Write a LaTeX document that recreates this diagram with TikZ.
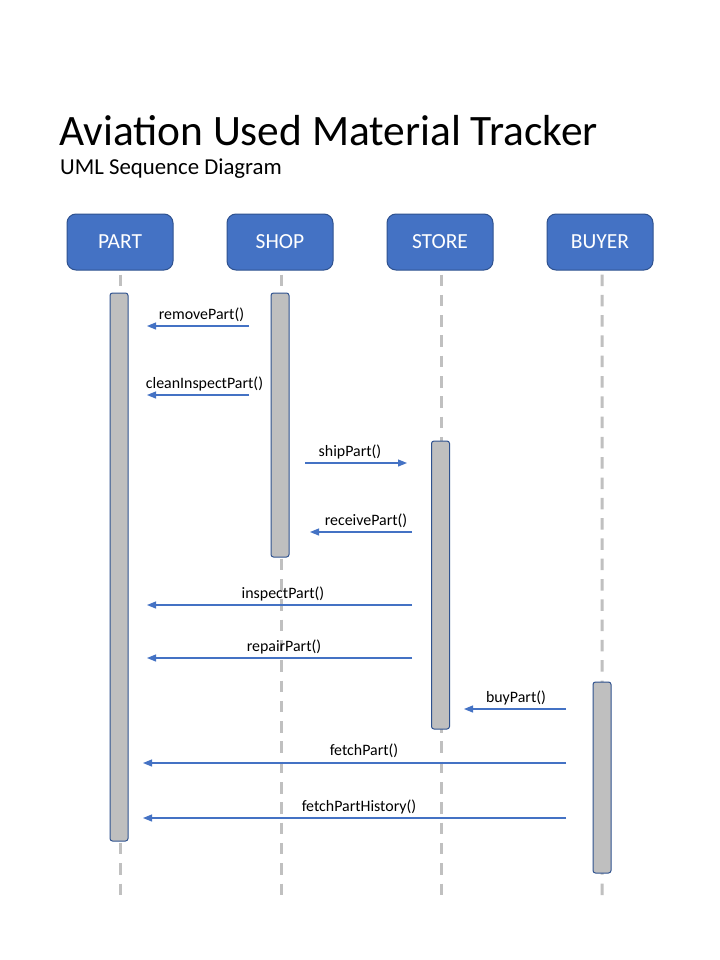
\documentclass[tikz,border=0pt]{standalone}
\usepackage{fontspec}
\setmainfont{Carlito}
\usetikzlibrary{arrows.meta}
\definecolor{boxblue}{HTML}{4472C4}
\definecolor{boxedge}{HTML}{2F528F}
\definecolor{bargray}{HTML}{BFBFBF}
\definecolor{linegray}{HTML}{C0C0C0}
\tikzset{
  actor/.style={draw=boxedge, line width=1bp, fill=boxblue, rounded corners=9bp,
    minimum width=106bp, minimum height=56bp, inner sep=0pt, text=white,
    font=\fontsize{21.5bp}{25bp}\selectfont},
  lifeline/.style={draw=linegray, line width=3bp, dash pattern=on 11.5bp off 8.8bp},
  actbar/.style={draw=boxedge, line width=1bp, fill=bargray, rounded corners=2.5bp,
    minimum width=18bp, inner sep=0pt},
  msg/.style={draw=boxblue, line width=1.1bp, -{Triangle[length=9bp,width=7bp]}},
  msglabel/.style={anchor=base, inner sep=0pt, font=\fontsize{15.9bp}{18bp}\selectfont}
}
\begin{document}
\begin{tikzpicture}[x=1bp,y=-1bp]
\useasboundingbox[fill=white] (0,0) rectangle (720,960);
% title
\node[anchor=base west, inner sep=0pt, font=\fontsize{43.4bp}{50bp}\selectfont] (title) at (59,145) {Aviation Used Material Tracker};
\node[anchor=base west, inner sep=0pt, font=\fontsize{22.8bp}{26bp}\selectfont] (subtitle) at (60,174) {UML Sequence Diagram};
% actors
\node[actor] (part) at (120,242) {PART};
\node[actor] (shop) at (280,242) {SHOP};
\node[actor] (store) at (440,242) {STORE};
\node[actor] (buyer) at (600,242) {BUYER};
% lifeline ends
\coordinate (partend) at (120,895);
\coordinate (shopend) at (281,895);
\coordinate (storeend) at (441,895);
\coordinate (buyerend) at (602,895);
\draw[lifeline] ([yshift=-4bp]part.south) -- (partend);
\draw[lifeline] ([xshift=1bp,yshift=-4bp]shop.south) -- (shopend);
\draw[lifeline] ([xshift=1bp,yshift=-4bp]store.south) -- (storeend);
\draw[lifeline] ([xshift=2bp,yshift=-4bp]buyer.south) -- (buyerend);
% activation bars
\node[actbar, minimum height=548bp] (partbar) at (119,567) {};
\node[actbar, minimum height=264bp] (shopbar) at (280,425) {};
\node[actbar, minimum height=288bp] (storebar) at (440.5,585) {};
\node[actbar, minimum height=191bp] (buyerbar) at (602,777.5) {};
% message end points
\coordinate (m1s) at (249,326); \coordinate (m1e) at (147,326);
\coordinate (m2s) at (249,395); \coordinate (m2e) at (147,395);
\coordinate (m3s) at (305,463); \coordinate (m3e) at (407,463);
\coordinate (m4s) at (412,532); \coordinate (m4e) at (310,532);
\coordinate (m5s) at (412,605); \coordinate (m5e) at (147,605);
\coordinate (m6s) at (412,658); \coordinate (m6e) at (147,658);
\coordinate (m7s) at (566,709); \coordinate (m7e) at (464,709);
\coordinate (m8s) at (566,763); \coordinate (m8e) at (143,763);
\coordinate (m9s) at (566,818); \coordinate (m9e) at (143,818);
\draw[msg] (m1s) -- (m1e);
\draw[msg] (m2s) -- (m2e);
\draw[msg] (m3s) -- (m3e);
\draw[msg] (m4s) -- (m4e);
\draw[msg] (m5s) -- (m5e);
\draw[msg] (m6s) -- (m6e);
\draw[msg] (m7s) -- (m7e);
\draw[msg] (m8s) -- (m8e);
\draw[msg] (m9s) -- (m9e);
% labels
\node[msglabel] (l1) at (201.5,319) {removePart()};
\node[msglabel] (l2) at (204.5,388) {cleanInspectPart()};
\node[msglabel] (l3) at (350,456) {shipPart()};
\node[msglabel] (l4) at (366,525) {receivePart()};
\node[msglabel] (l5) at (283,598) {inspectPart()};
\node[msglabel] (l6) at (284,651) {repairPart()};
\node[msglabel] (l7) at (516,702) {buyPart()};
\node[msglabel] (l8) at (364,755) {fetchPart()};
\node[msglabel] (l9) at (359,811) {fetchPartHistory()};
\end{tikzpicture}
\end{document}
